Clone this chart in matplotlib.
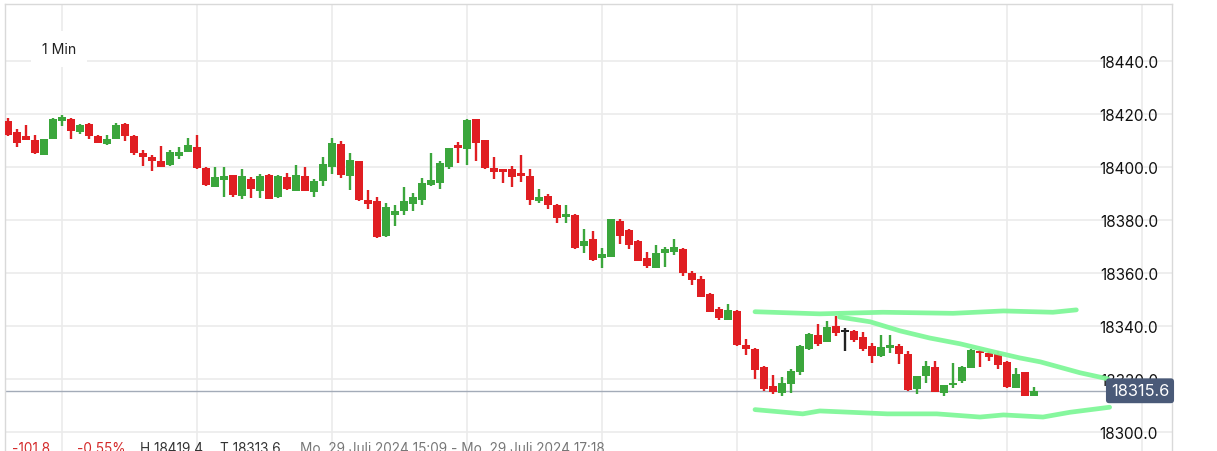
import matplotlib
matplotlib.use("Agg")
import matplotlib.pyplot as plt
import numpy as np

plt.rcParams['font.family'] = ['Inter', 'DejaVu Sans']

# ---- data (1-minute candles, Mo. 29 Juli 2024) ----
opens = [18417.4, 18413.2, 18411.7, 18410.1, 18404.6, 18410.6, 18417.4, 18418.1, 18413.3, 18416.2,
         18411.7, 18408.8, 18410.6, 18416.2, 18411.7, 18405.2, 18403.7, 18402.2, 18400.8, 18404.2,
         18405.7, 18407.5, 18399.6, 18392.5, 18395.2, 18397.0, 18389.2, 18395.4, 18391.0, 18397.0,
         18388.8, 18396.2, 18391.0, 18396.6, 18390.7, 18394.8, 18400.1, 18408.6, 18396.7, 18402.2,
         18387.6, 18387.3, 18374.1, 18382.0, 18383.5, 18386.1, 18387.6, 18393.2, 18394.1, 18400.1,
         18408.3, 18406.9, 18418.1, 18410.1, 18399.6, 18399.2, 18399.2, 18397.7, 18396.6, 18387.3,
         18389.0, 18385.7, 18381.2, 18381.9, 18370.3, 18372.8, 18365.8, 18366.2, 18379.6, 18376.2,
         18372.1, 18365.7, 18362.0, 18367.7, 18368.1, 18369.1, 18360.0, 18357.8, 18352.1, 18346.5,
         18342.4, 18345.7, 18332.9, 18331.4, 18324.6, 18317.4, 18314.9, 18318.3, 18322.8, 18331.4,
         18336.7, 18334.0, 18340.1, 18337.8, 18338.2, 18335.9, 18332.5, 18328.8, 18331.8, 18332.5,
         18329.5, 18316.4, 18321.0, 18324.6, 18314.9, 18317.6, 18319.1, 18324.3, 18330.6, 18329.9,
         18329.5, 18326.5, 18316.8, 18322.5, 18313.8]
highs = [18418.4, 18414.3, 18415.8, 18412.0, 18410.6, 18418.3, 18419.4, 18418.4, 18416.0, 18416.4,
         18412.0, 18412.0, 18416.5, 18416.4, 18411.9, 18406.4, 18404.5, 18407.9, 18406.4, 18407.5,
         18410.9, 18412.0, 18400.0, 18400.0, 18400.0, 18397.1, 18399.2, 18396.2, 18397.3, 18397.2,
         18396.8, 18397.7, 18400.7, 18400.0, 18395.4, 18403.7, 18410.9, 18409.8, 18405.2, 18402.4,
         18391.4, 18388.8, 18386.5, 18385.8, 18392.5, 18390.3, 18395.8, 18405.2, 18402.2, 18407.3,
         18409.4, 18418.1, 18418.2, 18410.2, 18403.7, 18399.3, 18400.3, 18404.5, 18399.2, 18391.7,
         18389.8, 18386.1, 18385.8, 18382.1, 18376.6, 18375.9, 18369.5, 18380.5, 18380.4, 18376.6,
         18372.3, 18367.9, 18370.6, 18369.8, 18372.8, 18369.5, 18360.8, 18358.9, 18352.3, 18347.2,
         18348.4, 18345.9, 18335.2, 18331.6, 18324.8, 18321.6, 18320.8, 18323.9, 18332.7, 18337.4,
         18340.8, 18341.9, 18343.8, 18339.3, 18338.4, 18337.8, 18333.7, 18336.7, 18336.7, 18333.3,
         18330.6, 18321.2, 18326.9, 18326.9, 18317.8, 18326.1, 18324.9, 18331.2, 18331.0, 18330.6,
         18330.6, 18326.7, 18324.2, 18322.7, 18317.2]
lows = [18411.8, 18407.6, 18410.0, 18405.0, 18404.4, 18410.5, 18415.5, 18410.6, 18412.5, 18410.6,
        18408.9, 18408.4, 18410.5, 18409.9, 18404.6, 18400.5, 18398.6, 18399.9, 18400.5, 18403.1,
        18405.5, 18399.3, 18392.9, 18392.3, 18388.8, 18388.8, 18388.0, 18388.4, 18388.4, 18387.8,
        18388.4, 18391.4, 18390.8, 18390.8, 18388.8, 18392.9, 18397.4, 18395.9, 18391.4, 18387.3,
        18384.3, 18373.3, 18373.7, 18377.9, 18382.0, 18383.5, 18385.8, 18392.8, 18391.8, 18399.3,
        18401.6, 18400.8, 18402.3, 18399.3, 18395.6, 18394.1, 18392.5, 18394.4, 18385.8, 18386.5,
        18384.3, 18379.0, 18379.0, 18369.2, 18367.7, 18364.7, 18361.7, 18366.0, 18371.1, 18369.2,
        18364.5, 18361.7, 18361.7, 18362.4, 18366.9, 18359.0, 18355.6, 18350.9, 18345.2, 18342.4,
        18342.2, 18332.3, 18328.9, 18320.2, 18315.7, 18314.2, 18313.8, 18314.9, 18321.7, 18331.0,
        18332.5, 18333.8, 18336.3, 18330.6, 18334.0, 18330.6, 18326.1, 18328.4, 18329.9, 18325.7,
        18315.7, 18314.2, 18318.7, 18315.1, 18313.8, 18316.8, 18318.7, 18324.1, 18324.6, 18326.9,
        18323.9, 18316.8, 18316.6, 18313.6, 18313.6]
closes = [18412.1, 18409.1, 18410.3, 18405.4, 18410.5, 18418.1, 18418.8, 18413.6, 18415.8, 18411.8,
          18409.1, 18410.5, 18415.8, 18411.8, 18405.4, 18403.9, 18402.3, 18400.1, 18405.6, 18405.6,
          18408.3, 18399.7, 18393.3, 18396.2, 18396.6, 18389.5, 18396.6, 18391.8, 18396.6, 18388.0,
          18396.6, 18391.8, 18397.0, 18391.0, 18394.7, 18401.1, 18409.0, 18397.1, 18402.6, 18387.6,
          18386.1, 18373.7, 18385.0, 18383.5, 18387.3, 18388.8, 18393.9, 18395.1, 18401.5, 18407.1,
          18407.1, 18417.7, 18409.1, 18399.7, 18398.2, 18398.2, 18396.3, 18396.7, 18387.6, 18388.8,
          18385.8, 18380.9, 18382.4, 18369.6, 18372.1, 18364.9, 18367.2, 18380.4, 18374.1, 18370.7,
          18364.7, 18362.8, 18367.6, 18369.1, 18369.8, 18360.1, 18357.5, 18351.1, 18345.4, 18343.2,
          18346.1, 18333.0, 18331.4, 18323.6, 18316.4, 18315.3, 18318.6, 18323.2, 18332.5, 18337.0,
          18333.3, 18339.7, 18337.4, 18337.8, 18334.8, 18331.4, 18328.8, 18332.1, 18332.9, 18329.5,
          18316.0, 18321.0, 18325.0, 18315.3, 18317.6, 18318.7, 18324.7, 18331.0, 18330.0, 18328.4,
          18325.4, 18317.2, 18322.0, 18313.8, 18315.6]

y_ticks = [18300, 18320, 18340, 18360, 18380, 18400, 18420, 18440]
grid_minutes = [6, 21, 36, 51, 66, 81, 96, 111, 126]   # quarter-hour marks (minutes after 15:09)
last_price = 18315.6
change_txt = "-101.8"
change_pct_txt = "-0.55%"
high_txt = "H 18419.4"
low_txt = "T 18313.6"
range_txt = "Mo. 29 Juli 2024 15:09 - Mo. 29 Juli 2024 17:18"
interval_txt = "1 Min"

# hand-drawn green annotation lines (minute index, price)
upper_x = [83.0, 90.2, 97.2, 105.0, 110.6, 116.1, 118.7]
upper_y = [18345.4, 18344.6, 18345.2, 18344.8, 18345.7, 18345.2, 18346.1]
desc_x = [92.4, 95.8, 99.1, 102.4, 105.8, 109.1, 112.4, 114.7, 119.1, 122.2]
desc_y = [18343.4, 18341.6, 18338.2, 18335.5, 18333.3, 18330.6, 18328.0, 18326.5, 18322.4, 18320.1]
lower_x = [83.0, 88.3, 90.2, 97.7, 103.2, 108.0, 110.6, 115.0, 118.0, 122.4]
lower_y = [18308.5, 18306.9, 18308.0, 18306.9, 18306.9, 18305.7, 18306.5, 18305.7, 18307.5, 18309.4]

# ---- figure ----
W, H = 1217, 452
fig = plt.figure(figsize=(W / 100, H / 100), dpi=100)
ax = fig.add_axes([5 / W, 0, 1167 / W, 447 / H])
ax.set_xlim(-0.33, 129.33)
ax.set_ylim(18292.9, 18461.4)

RED = '#e01e22'
GREEN = '#3ba63c'
DOJI = '#222222'

o = np.array(opens); c = np.array(closes); h = np.array(highs); l = np.array(lows)
x = np.arange(len(o))
col = np.where(c > o, GREEN, np.where(c < o, RED, DOJI))
bottom = np.minimum(o, c)
height = np.maximum(np.abs(c - o), 0.6)
ax.vlines(x, l, h, colors=col, linewidth=1.7, zorder=3)
ax.bar(x, height, bottom=bottom, width=0.88, color=col, linewidth=0, zorder=3)

# annotations
for ax_x, ax_y in [(upper_x, upper_y), (desc_x, desc_y), (lower_x, lower_y)]:
    ax.plot(ax_x, ax_y, color='#80f799', linewidth=3.4, solid_capstyle='round',
            solid_joinstyle='round', zorder=6, alpha=0.95)

# last price line & label
ax.axhline(last_price, color='#a3abb8', linewidth=1.0, zorder=2)
ax.text(1135 / 1167, last_price, f"{last_price:.1f}", transform=ax.get_yaxis_transform(),
        ha='center', va='center', color='white', fontsize=11.8, zorder=7,
        bbox=dict(boxstyle='round,pad=0.3,rounding_size=0.2', fc='#4a5a78', ec='none'))

# grid & axis
ax.set_yticks(y_ticks)
ax.set_yticklabels([f"{v:.1f}" for v in y_ticks])
ax.set_xticks(grid_minutes)
ax.set_xticklabels([])
ax.set_axisbelow(True)
ax.grid(True, color='#ebebeb', linewidth=1.2)
ax.yaxis.tick_right()
ax.tick_params(axis='y', length=0, pad=-10, labelsize=11, labelcolor='#111111')
ax.tick_params(axis='x', length=0)
for lab in ax.get_yticklabels():
    lab.set_horizontalalignment('right')
for s in ['left', 'top', 'right']:
    ax.spines[s].set_color('#d9d9d9')
    ax.spines[s].set_linewidth(1.0)
ax.spines['bottom'].set_visible(False)

# interval label
fig.text(59 / W, 1 - 50 / H, interval_txt, ha='center', va='center', fontsize=10.2, color='#222222',
         bbox=dict(boxstyle='square,pad=0.8', fc='white', ec='none'), zorder=5)

# bottom info line (partially cut off)
ytop = 1 - 442 / H
fs = 9.8
fig.text(12 / W, ytop, change_txt, ha='left', va='top', fontsize=fs, color='#d42a2a')
fig.text(77 / W, ytop, change_pct_txt, ha='left', va='top', fontsize=fs, color='#d42a2a')
fig.text(140 / W, ytop, high_txt, ha='left', va='top', fontsize=fs, color='#333333')
fig.text(220 / W, ytop, low_txt, ha='left', va='top', fontsize=fs, color='#333333')
fig.text(300 / W, ytop, range_txt, ha='left', va='top', fontsize=fs, color='#777777')

fig.savefig('out.png', dpi=100, facecolor='white')
